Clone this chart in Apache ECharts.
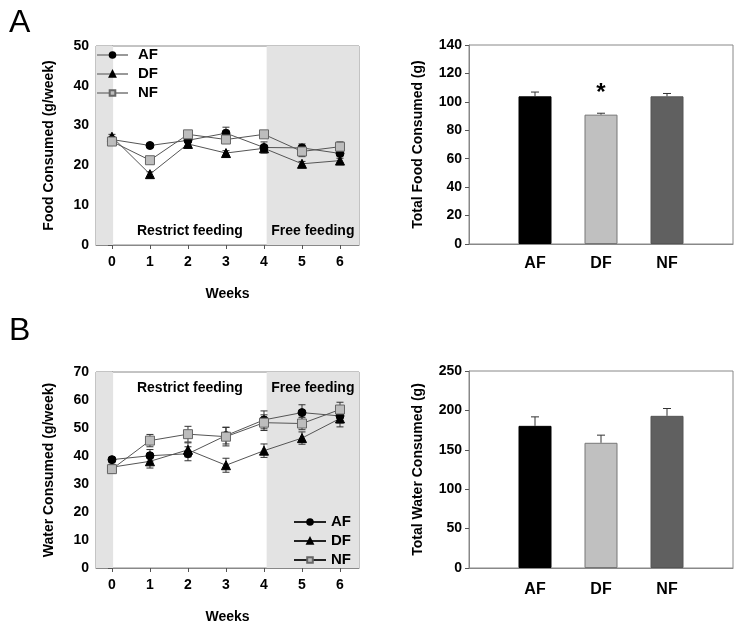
<!DOCTYPE html>
<html><head><meta charset="utf-8">
<script src="https://cdn.jsdelivr.net/npm/echarts@6/dist/echarts.min.js"></script>
<style>html,body{margin:0;padding:0;background:#fff}#c{width:738px;height:625px}</style>
</head><body><div id="c"></div>
<script>
const weeks = [0,1,2,3,4,5,6];
const weekTicks = [0,1,2,3,4,5,6];
const groups = ['AF','DF','NF'];
const foodAF = [26.5, 25.0, 26.3, 28.1, 24.5, 24.4, 23.0];
const foodAFErr = [0.5, 0.5, 0.6, 1.5, 1.4, 1.0, 0.6];
const foodDF = [27.2, 17.8, 25.4, 23.1, 24.3, 20.4, 21.2];
const foodDFErr = [0.6, 0.6, 0.5, 0.6, 0.5, 0.6, 0.6];
const foodNF = [26.0, 21.3, 27.8, 26.5, 27.8, 23.5, 24.7];
const foodNFErr = [0.5, 0.6, 0.6, 0.8, 0.5, 1.3, 1.2];
const waterAF = [38.7, 40.1, 40.8, 47.3, 52.9, 55.5, 54.3];
const waterAFErr = [0.8, 2.2, 2.5, 3.0, 3.2, 2.8, 2.5];
const waterDF = [36.0, 38.1, 42.2, 36.7, 41.9, 46.4, 53.4];
const waterDFErr = [1.0, 2.4, 2.5, 2.5, 2.4, 2.2, 3.0];
const waterNF = [35.3, 45.5, 47.8, 46.9, 51.9, 51.6, 56.6];
const waterNFErr = [1.5, 2.2, 2.8, 3.3, 2.8, 2.2, 2.6];
const foodTotal = [103.9, 91.0, 103.9];
const foodTotalErr = [3.0, 1.0, 2.0];
const waterTotal = [180.4, 158.9, 193.1];
const waterTotalErr = [11.4, 9.7, 9.3];
const barCats = ['', 'AF', 'DF', 'NF', ''];
const phases = [[-0.42, 0.03, ''], [0.03, 4.07, 'Restrict feeding'], [4.07, 6.5, 'Free feeding']];

const FONT = 'Liberation Sans, Arial, sans-serif';
const chart = echarts.init(document.getElementById('c'), null, {renderer: 'canvas'});

const styles = {
  AF: {symbol: 'circle', size: 8, color: '#000', border: '#000'},
  DF: {symbol: 'triangle', size: 9, color: '#000', border: '#000'},
  NF: {symbol: 'rect', size: 9, color: '#bdbdbd', border: '#666'}
};
const barColors = ['#000000', '#c0c0c0', '#606060'];
const barBorders = ['#000000', '#777777', '#555555'];

function lineAxisX(gi) {
  return {
    type: 'value', gridIndex: gi, min: -0.42, max: 6.5,
    name: 'Weeks', nameLocation: 'middle', nameGap: 42,
    nameTextStyle: {fontFamily: FONT, fontWeight: 'bold', fontSize: 14, color: '#000'},
    axisLine: {show: true, lineStyle: {color: '#888'}},
    axisTick: {show: true, inside: false, length: 4, customValues: weekTicks, lineStyle: {color: '#555'}},
    axisLabel: {customValues: weekTicks, fontFamily: FONT, fontWeight: 'bold', fontSize: 14, color: '#000', margin: 10},
    splitLine: {show: false}
  };
}
function valueAxisY(gi, max, interval, name, gap) {
  return {
    type: 'value', gridIndex: gi, min: 0, max: max, interval: interval,
    name: name, nameLocation: 'middle', nameGap: gap, nameRotate: 90,
    nameTextStyle: {fontFamily: FONT, fontWeight: 'bold', fontSize: 14, color: '#000'},
    axisLine: {show: true, lineStyle: {color: '#888'}},
    axisTick: {show: true, inside: false, length: 4, lineStyle: {color: '#555'}},
    axisLabel: {fontFamily: FONT, fontWeight: 'bold', fontSize: 14, color: '#000', margin: 7},
    splitLine: {show: false}
  };
}
function barAxisX(gi, margin) {
  return {
    type: 'category', gridIndex: gi, data: barCats, boundaryGap: false,
    axisLine: {show: true, lineStyle: {color: '#888'}},
    axisTick: {show: false},
    axisLabel: {fontFamily: FONT, fontWeight: 'bold', fontSize: 16, color: '#000', margin: margin, interval: 0},
    splitLine: {show: false}
  };
}

function lineSeries(name, vals, gi, withArea, labelPos, labelDist) {
  const st = styles[name];
  const s = {
    type: 'line', name: name, xAxisIndex: gi, yAxisIndex: gi, z: 3,
    data: weeks.map((w, i) => [w, vals[i]]),
    symbol: st.symbol, symbolSize: st.size, showSymbol: true,
    lineStyle: {color: '#555', width: 1},
    itemStyle: {color: st.color, borderColor: st.border, borderWidth: 1},
    emphasis: {disabled: true}, animation: false
  };
  if (withArea) {
    s.markArea = {
      silent: true,
      label: {fontFamily: FONT, fontWeight: 'bold', fontSize: 14, color: '#000', position: labelPos, distance: labelDist},
      data: phases.map(p => [
        {xAxis: p[0], name: p[2], itemStyle: {color: p[2] === 'Restrict feeding' ? 'rgba(0,0,0,0)' : '#e3e3e3'}},
        {xAxis: p[1]}
      ])
    };
  }
  return s;
}
function errSeries(vals, errs, gi) {
  return {
    type: 'custom', xAxisIndex: gi, yAxisIndex: gi, z: 2, silent: true, animation: false,
    data: weeks.map((w, i) => [w, vals[i], errs[i]]),
    renderItem: function (params, api) {
      const x = api.value(0), y = api.value(1), e = api.value(2);
      const t = api.coord([x, y + e]), b = api.coord([x, y - e]);
      const st = {stroke: '#333', lineWidth: 1};
      return {type: 'group', children: [
        {type: 'line', shape: {x1: t[0], y1: t[1], x2: b[0], y2: b[1]}, style: st},
        {type: 'line', shape: {x1: t[0] - 3.5, y1: t[1], x2: t[0] + 3.5, y2: t[1]}, style: st},
        {type: 'line', shape: {x1: b[0] - 3.5, y1: b[1], x2: b[0] + 3.5, y2: b[1]}, style: st}
      ]};
    }
  };
}
function barSeries(vals, gi, star) {
  return {
    type: 'bar', xAxisIndex: gi, yAxisIndex: gi, barWidth: 33, z: 2, animation: false,
    data: barCats.map((c, i) => {
      if (i < 1 || i > 3) return '-';
      const k = i - 1;
      const d = {value: vals[k], itemStyle: {color: barColors[k], borderColor: barBorders[k], borderWidth: 1}};
      if (star && k === 1) d.label = {show: true, position: 'top', formatter: '*', fontFamily: FONT, fontWeight: 'bold', fontSize: 24, color: '#000', distance: 9};
      return d;
    }),
    emphasis: {disabled: true}
  };
}
function barErr(vals, errs, gi) {
  return {
    type: 'custom', xAxisIndex: gi, yAxisIndex: gi, z: 3, silent: true, animation: false,
    data: vals.map((v, k) => [k + 1, v, errs[k]]),
    renderItem: function (params, api) {
      const x = api.value(0), y = api.value(1), e = api.value(2);
      const t = api.coord([x, y + e]), b = api.coord([x, y]);
      const st = {stroke: '#333', lineWidth: 1};
      return {type: 'group', children: [
        {type: 'line', shape: {x1: t[0], y1: t[1], x2: b[0], y2: b[1]}, style: st},
        {type: 'line', shape: {x1: t[0] - 4, y1: t[1], x2: t[0] + 4, y2: t[1]}, style: st}
      ]};
    }
  };
}

const legendText = {fontFamily: FONT, fontWeight: 'bold', fontSize: 15, color: '#000', lineHeight: 16};

chart.setOption({
  animation: false,
  backgroundColor: '#fff',
  title: [
    {text: 'A', left: 4, top: 2, textStyle: {fontFamily: FONT, fontWeight: 'normal', fontSize: 32, color: '#000'}},
    {text: 'B', left: 4, top: 310, textStyle: {fontFamily: FONT, fontWeight: 'normal', fontSize: 32, color: '#000'}}
  ],
  grid: [
    {left: 96, top: 46, width: 263, height: 199, show: true, borderColor: '#888', borderWidth: 1},
    {left: 469, top: 45, width: 264, height: 199, show: true, borderColor: '#888', borderWidth: 1},
    {left: 96, top: 372, width: 263, height: 197, show: true, borderColor: '#888', borderWidth: 1},
    {left: 469, top: 371, width: 264, height: 197, show: true, borderColor: '#888', borderWidth: 1}
  ],
  legend: [
    {data: groups, orient: 'vertical', left: 96, top: 47, padding: 0, itemWidth: 31, itemHeight: 7, itemGap: 3,
     textStyle: Object.assign({padding: [0, 0, 0, 5]}, legendText), selectedMode: false, lineStyle: {color: '#999'}},
    {data: groups, orient: 'vertical', left: 293, top: 514, padding: 0, itemWidth: 32, itemHeight: 7, itemGap: 3,
     textStyle: legendText, selectedMode: false, lineStyle: {color: '#222'}}
  ],
  xAxis: [lineAxisX(0), barAxisX(1, 12), lineAxisX(2), barAxisX(3, 14)],
  yAxis: [
    valueAxisY(0, 50, 10, 'Food Consumed (g/week)', 40),
    valueAxisY(1, 140, 20, 'Total Food Consumed (g)', 44),
    valueAxisY(2, 70, 10, 'Water Consumed (g/week)', 40),
    valueAxisY(3, 250, 50, 'Total Water Consumed (g)', 44)
  ],
  series: [
    lineSeries('AF', foodAF, 0, true, 'insideBottom', 7),
    lineSeries('DF', foodDF, 0, false),
    lineSeries('NF', foodNF, 0, false),
    errSeries(foodAF, foodAFErr, 0),
    errSeries(foodDF, foodDFErr, 0),
    errSeries(foodNF, foodNFErr, 0),
    barSeries(foodTotal, 1, true),
    barErr(foodTotal, foodTotalErr, 1),
    lineSeries('AF', waterAF, 2, true, 'insideTop', 9),
    lineSeries('DF', waterDF, 2, false),
    lineSeries('NF', waterNF, 2, false),
    errSeries(waterAF, waterAFErr, 2),
    errSeries(waterDF, waterDFErr, 2),
    errSeries(waterNF, waterNFErr, 2),
    barSeries(waterTotal, 3, false),
    barErr(waterTotal, waterTotalErr, 3)
  ]
});
</script></body></html>
